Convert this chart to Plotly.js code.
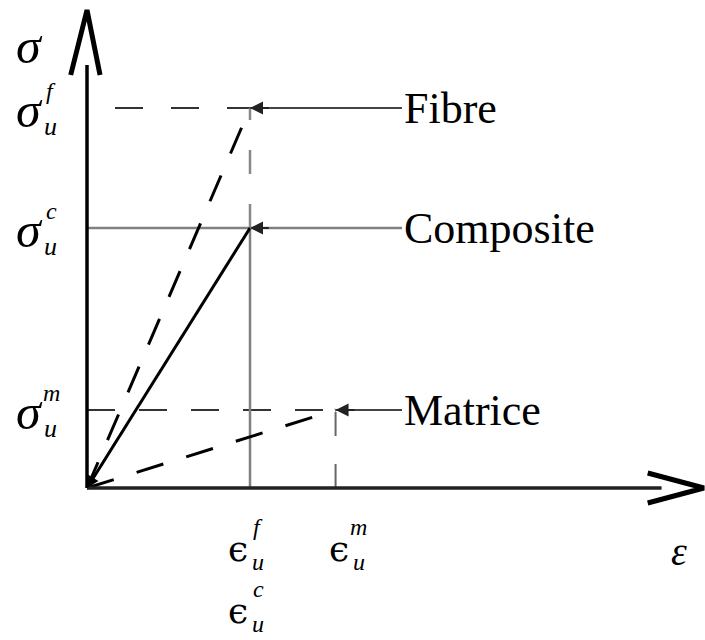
<!DOCTYPE html>
<html>
<head>
<meta charset="utf-8">
<script src="https://cdn.plot.ly/plotly-3.0.1.min.js"></script>
<style>
  html, body { margin: 0; padding: 0; background: #fff; }
  #chart { width: 705px; height: 640px; }
</style>
</head>
<body>
<div id="chart"></div>
<script>
// Schematic stress–strain behaviour of fibre, matrix and composite
const materials = ['Fibre', 'Composite', 'Matrice'];
const ultimateStrain = [2.0, 2.0, 3.05];   // ε_u for each material
const ultimateStress = [3.8, 2.6, 0.78];   // σ_u for each material
const stressSup = ['f', 'c', 'm'];          // superscripts on the σ_u labels
const strainTicks = [
  { value: 2.0, sup: 'f', row: 0 },
  { value: 3.05, sup: 'm', row: 0 },
  { value: 2.0, sup: 'c', row: 1 }
];

// ---- layout constants (drawing geometry) ----
const X_RANGE = [-1.0675, 7.583];
const Y_RANGE = [-1.52, 4.88];
const LABEL_X = 3.865;          // where the leader lines meet the names
const Y_SHAFT_TOP = 4.23, Y_TIP = 4.78, Y_WING = 4.13, Y_WING_DX = [-0.2, 0.16];
const X_SHAFT_END = 7.05, X_TIP = 7.57, X_WING = 6.88, X_WING_DY = 0.15;
const SERIF = 'Liberation Serif, Times New Roman, DejaVu Serif, serif';
const EPS_FONT = 'DejaVu Serif, serif';
const DASH = '28px,24px';
const DASH_GAP_FIRST = '0px,28px,28px,0px';

const iF = materials.indexOf('Fibre');
const iC = materials.indexOf('Composite');
const iM = materials.indexOf('Matrice');

function seg(x, y, color, width, dash) {
  return { type: 'scatter', mode: 'lines', x: x, y: y, hoverinfo: 'skip',
           showlegend: false, line: { color: color, width: width, dash: dash || 'solid' } };
}

const traces = [];
// guide lines
traces.push(seg([0, ultimateStrain[iF]], [ultimateStress[iF], ultimateStress[iF]], '#333', 2, DASH_GAP_FIRST));
traces.push(seg([0, ultimateStrain[iC]], [ultimateStress[iC], ultimateStress[iC]], '#808080', 2.5));
traces.push(seg([0, ultimateStrain[iM]], [ultimateStress[iM], ultimateStress[iM]], '#333', 2, DASH));
traces.push(seg([ultimateStrain[iF], ultimateStrain[iF]], [ultimateStress[iC], ultimateStress[iF]], '#888', 2.5, '24px,30px'));
traces.push(seg([ultimateStrain[iC], ultimateStrain[iC]], [0, ultimateStress[iC]], '#808080', 2.5));
traces.push(seg([ultimateStrain[iM], ultimateStrain[iM]], [0, ultimateStress[iM]], '#666', 2, '24px,28px'));
// stress–strain curves (linear up to failure)
traces.push(seg([0, ultimateStrain[iF]], [0, ultimateStress[iF]], '#000', 3, DASH));
traces.push(seg([0, ultimateStrain[iC]], [0, ultimateStress[iC]], '#000', 3));
traces.push(seg([0, ultimateStrain[iM]], [0, ultimateStress[iM]], '#000', 3, DASH));
// leader lines from names to failure points
materials.forEach((m, i) => {
  traces.push(seg([ultimateStrain[i], LABEL_X], [ultimateStress[i], ultimateStress[i]],
                  i === iC ? '#808080' : '#444', i === iC ? 2.5 : 2));
});
// axes with open arrowheads
traces.push(seg([0, 0], [0, Y_SHAFT_TOP], '#000', 3.5));
traces.push(seg([Y_WING_DX[0], 0, Y_WING_DX[1]], [Y_WING, Y_TIP, Y_WING], '#000', 5));
traces.push(seg([0, X_SHAFT_END], [0, 0], '#222', 3.5));
traces.push(seg([X_WING, X_TIP, X_WING], [X_WING_DY, 0, -X_WING_DY], '#000', 5));

const annotations = [];
const txt = (o) => Object.assign({ xref: 'x', yref: 'y', showarrow: false, borderpad: 0,
                                    font: { family: SERIF, size: 44, color: '#000' } }, o);

// material names and the arrowheads at failure points
materials.forEach((m, i) => {
  annotations.push(txt({ x: LABEL_X, y: ultimateStress[i], text: m, xanchor: 'left', yanchor: 'middle', xshift: 1 }));
  annotations.push({ x: ultimateStrain[i], y: ultimateStress[i], ax: ultimateStrain[i] + 0.25, ay: ultimateStress[i],
                     xref: 'x', yref: 'y', axref: 'x', ayref: 'y', text: '', showarrow: true,
                     arrowhead: 2, arrowsize: 1.3, arrowwidth: 2, arrowcolor: '#222', standoff: 0 });
});
// arrowhead at the origin on the composite line
annotations.push({ x: 0, y: 0, ax: ultimateStrain[iC] * 0.25, ay: ultimateStress[iC] * 0.25,
                   xref: 'x', yref: 'y', axref: 'x', ayref: 'y', text: '', showarrow: true,
                   arrowhead: 2, arrowsize: 1.2, arrowwidth: 2, arrowcolor: '#000', standoff: 0 });

// σ_u labels on the stress axis
ultimateStress.forEach((s, i) => {
  annotations.push(txt({ x: 0, y: s, text: '<i>σ</i>', xshift: -58, yshift: -2, font: { family: SERIF, size: 50, color: '#000' } }));
  annotations.push(txt({ x: 0, y: s, text: '<i>u</i>', xshift: -37, yshift: -18, font: { family: SERIF, size: 26, color: '#000' } }));
  annotations.push(txt({ x: 0, y: s, text: '<i>' + stressSup[i] + '</i>', xshift: -36, yshift: 17, font: { family: SERIF, size: 24, color: '#000' } }));
});
// axis names
annotations.push(txt({ x: 0, y: Y_TIP, text: '<i>σ</i>', xshift: -58, yshift: -36, font: { family: SERIF, size: 50, color: '#000' } }));
annotations.push(txt({ x: X_TIP, y: 0, text: '<i>ε</i>', xshift: -25, yshift: -63, font: { family: SERIF, size: 40, color: '#000' } }));

// ε_u labels on the strain axis
strainTicks.forEach((t) => {
  const dy = -60 - 62 * t.row;
  const dx = t.sup === 'm' ? 3 : -12;
  annotations.push(txt({ x: t.value, y: 0, text: 'ϵ', xshift: dx, yshift: dy, font: { family: EPS_FONT, size: 36, color: '#000' } }));
  annotations.push(txt({ x: t.value, y: 0, text: '<i>u</i>', xshift: dx + 20, yshift: dy - 14, font: { family: SERIF, size: 24, color: '#000' } }));
  annotations.push(txt({ x: t.value, y: 0, text: '<i>' + t.sup + '</i>', xshift: dx + 20, yshift: dy + 21, font: { family: SERIF, size: 24, color: '#000' } }));
});

const layout = {
  width: 705, height: 640,
  margin: { l: 0, r: 0, t: 0, b: 0 },
  paper_bgcolor: '#fff', plot_bgcolor: '#fff',
  showlegend: false,
  xaxis: { range: X_RANGE, visible: false, fixedrange: true },
  yaxis: { range: Y_RANGE, visible: false, fixedrange: true },
  annotations: annotations
};

Plotly.newPlot('chart', traces, layout, { staticPlot: true, displayModeBar: false });
</script>
</body>
</html>
